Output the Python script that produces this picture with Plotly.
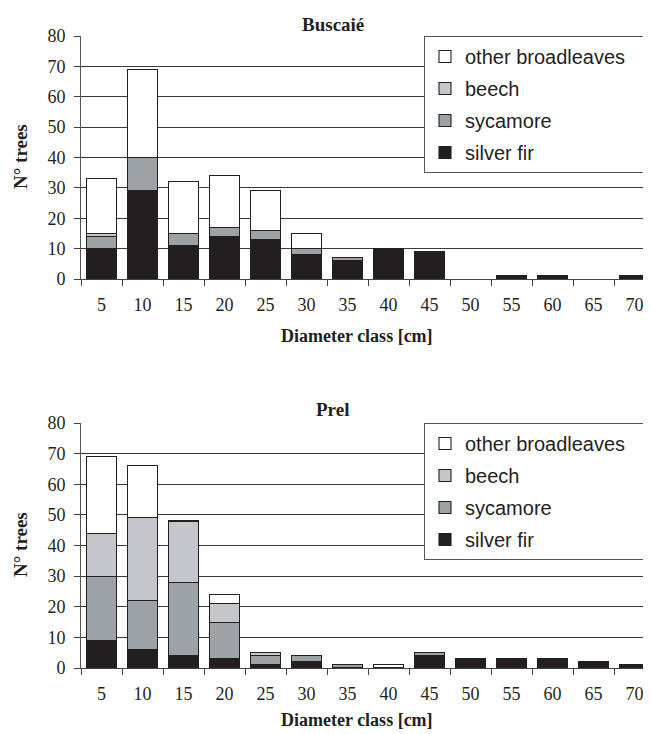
import plotly.graph_objects as go

# ---------------- data ----------------
classes = ["5", "10", "15", "20", "25", "30", "35", "40", "45", "50", "55", "60", "65", "70"]
species = ["silver fir", "sycamore", "beech", "other broadleaves"]

busc_silver_fir = [10, 29, 11, 14, 13, 8, 6, 10, 9, 0, 1, 1, 0, 1]
busc_sycamore = [4, 11, 4, 3, 3, 2, 1, 0, 0, 0, 0, 0, 0, 0]
busc_beech = [1, 0, 0, 0, 0, 0, 0, 0, 0, 0, 0, 0, 0, 0]
busc_other = [18, 29, 17, 17, 13, 5, 0, 0, 0, 0, 0, 0, 0, 0]

prel_silver_fir = [9, 6, 4, 3, 1, 2, 0, 0, 4, 3, 3, 3, 2, 1]
prel_sycamore = [21, 16, 24, 12, 3, 2, 1, 0, 1, 0, 0, 0, 0, 0]
prel_beech = [14, 27, 20, 6, 1, 0, 0, 0, 0, 0, 0, 0, 0, 0]
prel_other = [25, 17, 0, 3, 0, 0, 0, 1, 0, 0, 0, 0, 0, 0]

y_ticks = [0, 10, 20, 30, 40, 50, 60, 70, 80]

colors = {"silver fir": "#231f20", "sycamore": "#9da2a7",
          "beech": "#c4c6cb", "other broadleaves": "#ffffff"}
legend_rank = {"other broadleaves": 1, "beech": 2, "sycamore": 3, "silver fir": 4}

# ---------------- layout helpers ----------------
# the page body adds an 8 px margin, so the figure is drawn 8 px smaller
OFF = 8
W, H = 651 - OFF, 734 - OFF
L, R = 81 - OFF, 0
PW = W - L - R
CAT_PX = 41.0


def xp(px):
    return (px - OFF - L) / PW


def yp(py):
    return (H - (py - OFF)) / H


serif = "Liberation Serif"
sans = "Liberation Sans"
ink = "#231f20"
NBSP = "\u00a0"

fig = go.Figure()

panels = [
    ("x", "y", "legend", "b", [busc_silver_fir, busc_sycamore, busc_beech, busc_other]),
    ("x2", "y2", "legend2", "p", [prel_silver_fir, prel_sycamore, prel_beech, prel_other]),
]
for xa, ya, leg, tag, series in panels:
    for name, vals in zip(species, series):
        # a little trailing padding on the longest entry widens the legend box
        label = name + NBSP * 3 if name == "other broadleaves" else name
        fig.add_trace(go.Bar(
            x=classes,
            y=[v if v else None for v in vals],
            name=label,
            xaxis=xa, yaxis=ya,
            legend=leg,
            legendgroup=tag + name,
            legendrank=legend_rank[name],
            marker=dict(color=colors[name], line=dict(color=ink, width=1.1)),
            hoverinfo="skip",
        ))

axis_common_x = dict(
    type="category", categoryorder="array", categoryarray=classes,
    range=[-0.5, -0.5 + PW / CAT_PX],
    tickson="boundaries", ticks="outside", ticklen=6, tickcolor="#444", tickwidth=1,
    showline=True, linecolor="#444", linewidth=1,
    tickfont=dict(family=serif, size=18, color=ink),
    ticklabelstandoff=9, ticklabeloverflow="allow",
    showgrid=False, zeroline=False, fixedrange=True, automargin=False,
)
axis_common_y = dict(
    range=[0, 80], tickvals=y_ticks, ticks="outside", ticklen=6, tickcolor="#444",
    showline=True, linecolor="#555", linewidth=1,
    showgrid=True, gridcolor="#3a3a3a", gridwidth=1,
    tickfont=dict(family=serif, size=18, color=ink),
    ticklabelstandoff=5,
    zeroline=False, fixedrange=True, automargin=False,
)

legend_common = dict(
    xanchor="left", yanchor="top",
    bgcolor="white", bordercolor="#555", borderwidth=1,
    font=dict(family=sans, size=20, color=ink),
    traceorder="grouped", tracegroupgap=3,
    itemclick=False, itemdoubleclick=False,
)

fig.update_layout(
    template="none",
    width=W, height=H,
    margin=dict(l=L, r=R, t=0, b=0, autoexpand=False),
    paper_bgcolor="white", plot_bgcolor="white",
    barmode="stack", bargap=0.27,
    showlegend=True,
    xaxis=dict(axis_common_x, domain=[0, 1], anchor="y"),
    yaxis=dict(axis_common_y, domain=[yp(279), yp(36)], anchor="x"),
    xaxis2=dict(axis_common_x, domain=[0, 1], anchor="y2"),
    yaxis2=dict(axis_common_y, domain=[yp(668), yp(423)], anchor="x2"),
    legend=dict(legend_common, x=xp(424), y=yp(36)),
    legend2=dict(legend_common, x=xp(424), y=yp(423)),
)

ann_font_bold = dict(family=serif, size=19, color=ink, weight="bold")
ann_font_xt = dict(family=serif, size=18, color=ink, weight="bold")
annotations = [
    dict(text="Buscaié", x=xp(333), y=yp(25), font=ann_font_bold),
    dict(text="Prel", x=xp(332), y=yp(410), font=ann_font_bold),
    dict(text="Diameter class [cm]", x=xp(357), y=yp(336), font=ann_font_xt),
    dict(text="Diameter class [cm]", x=xp(357), y=yp(720), font=ann_font_xt),
    dict(text="N° trees", x=xp(20), y=yp(157), textangle=-90, font=ann_font_bold),
    dict(text="N° trees", x=xp(20), y=yp(545), textangle=-90, font=ann_font_bold),
]
for a in annotations:
    fig.add_annotation(xref="paper", yref="paper", xanchor="center", yanchor="middle",
                       showarrow=False, **a)

fig.write_html("out.html")
